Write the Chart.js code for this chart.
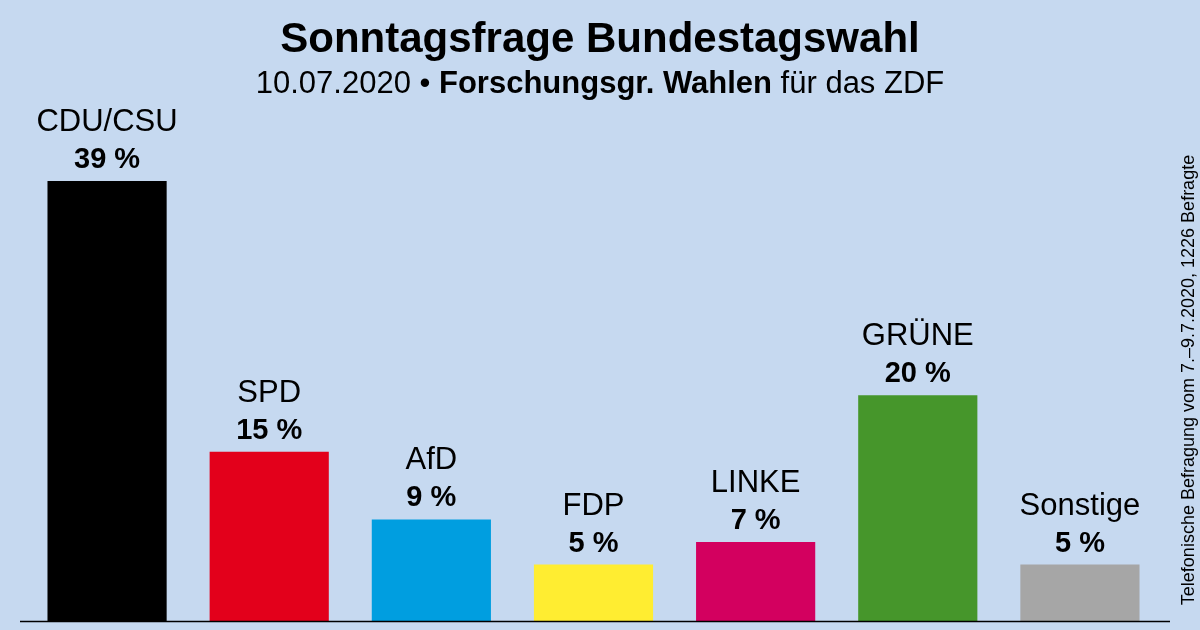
<!DOCTYPE html>
<html>
<head>
<meta charset="utf-8">
<script src="https://cdn.jsdelivr.net/npm/chart.js@4"></script>
<style>
  html, body { margin: 0; padding: 0; background: #c6d9f0; }
  #wrap { position: relative; width: 1200px; height: 630px; }
</style>
</head>
<body>
<div id="wrap"><canvas id="c" width="1200" height="630"></canvas></div>
<script>
const parties = ['CDU/CSU', 'SPD', 'AfD', 'FDP', 'LINKE', 'GRÜNE', 'Sonstige']
const values = [39, 15, 9, 5, 7, 20, 5]
const colors = ['#000000', '#e3001b', '#009ee0', '#ffed31', '#d3005f', '#46962b', '#a6a6a6']

const FONT = 'Liberation Sans, Arial, sans-serif'

const decor = {
  id: 'decor',
  afterDatasetsDraw(chart) {
    const { ctx, chartArea } = chart
    const meta = chart.getDatasetMeta(0)
    ctx.save()
    // baseline
    ctx.strokeStyle = '#000'
    ctx.lineWidth = 1.5
    ctx.beginPath()
    ctx.moveTo(20, chartArea.bottom + 0.5)
    ctx.lineTo(1170, chartArea.bottom + 0.5)
    ctx.stroke()

    ctx.fillStyle = '#000'
    ctx.textAlign = 'center'
    ctx.textBaseline = 'alphabetic'
    meta.data.forEach((bar, i) => {
      ctx.font = `31px ${FONT}`
      ctx.fillText(parties[i], bar.x, bar.y - 50)
      ctx.font = `bold 29px ${FONT}`
      ctx.fillText(values[i] + ' %', bar.x, bar.y - 13)
    })

    // title
    ctx.font = `bold 42px ${FONT}`
    ctx.fillText('Sonntagsfrage Bundestagswahl', 600, 52)
    const a = '10.07.2020 • '
    const b = 'Forschungsgr. Wahlen'
    const c = ' für das ZDF'
    const reg = `31px ${FONT}`, bold = `bold 31px ${FONT}`
    ctx.font = reg
    const wa = ctx.measureText(a).width
    const wc = ctx.measureText(c).width
    ctx.font = bold
    const wb = ctx.measureText(b).width
    let x = 600 - (wa + wb + wc) / 2
    ctx.textAlign = 'left'
    ctx.font = reg
    ctx.fillText(a, x, 93)
    ctx.font = bold
    ctx.fillText(b, x + wa, 93)
    ctx.font = reg
    ctx.fillText(c, x + wa + wb, 93)

    // side note
    ctx.translate(1194, 380)
    ctx.rotate(-Math.PI / 2)
    ctx.textAlign = 'center'
    ctx.font = `18px ${FONT}`
    ctx.fillText('Telefonische Befragung vom 7.–9.7.2020, 1226 Befragte', 0, 0)
    ctx.restore()
  }
}

new Chart(document.getElementById('c'), {
  type: 'bar',
  data: {
    labels: parties,
    datasets: [{
      data: values,
      backgroundColor: colors,
      categoryPercentage: 1,
      barPercentage: 0.735
    }]
  },
  options: {
    responsive: false,
    animation: false,
    layout: { padding: { left: 26, right: 39, top: 102, bottom: 9 } },
    plugins: { legend: { display: false }, tooltip: { enabled: false } },
    scales: {
      x: { display: false },
      y: { display: false, min: 0, max: 46 }
    }
  },
  plugins: [decor]
})
</script>
</body>
</html>
